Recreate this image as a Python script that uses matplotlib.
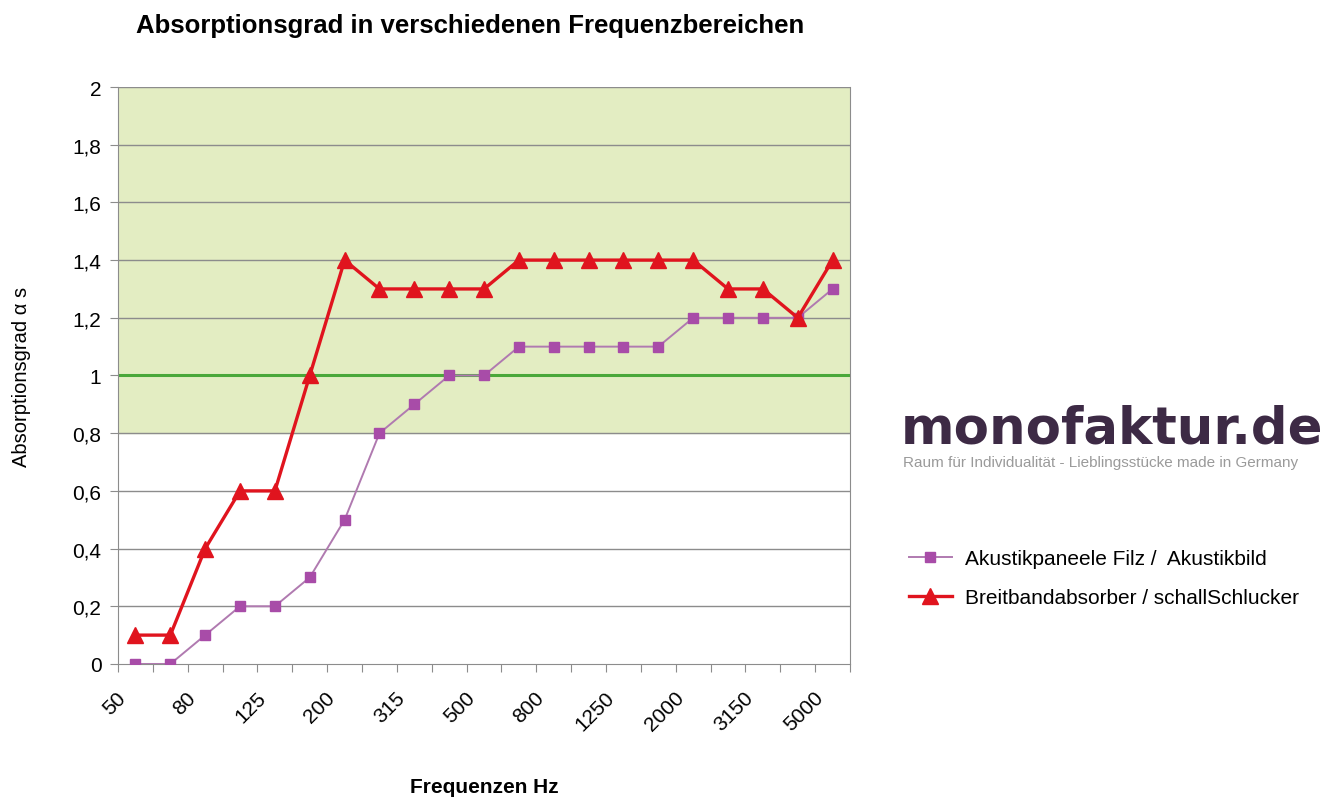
import matplotlib.pyplot as plt
from matplotlib.lines import Line2D
from matplotlib.transforms import ScaledTranslation

# frequencies (Hz), third-octave bands
freqs = ['50', '63', '80', '100', '125', '160', '200', '250', '315', '400', '500',
         '630', '800', '1000', '1250', '1600', '2000', '2500', '3150', '4000', '5000']
filz = [0, 0, 0.1, 0.2, 0.2, 0.3, 0.5, 0.8, 0.9, 1.0, 1.0,
        1.1, 1.1, 1.1, 1.1, 1.1, 1.2, 1.2, 1.2, 1.2, 1.3]
breitband = [0.1, 0.1, 0.4, 0.6, 0.6, 1.0, 1.4, 1.3, 1.3, 1.3, 1.3,
             1.4, 1.4, 1.4, 1.4, 1.4, 1.4, 1.3, 1.3, 1.2, 1.4]
yticks = [0, 0.2, 0.4, 0.6, 0.8, 1, 1.2, 1.4, 1.6, 1.8, 2]
ylabels = ['0', '0,2', '0,4', '0,6', '0,8', '1', '1,2', '1,4', '1,6', '1,8', '2']

plt.rcParams['font.family'] = ['Liberation Sans', 'DejaVu Sans']

fig = plt.figure(figsize=(13.28, 8.03), dpi=100)
ax = fig.add_axes([0.0889, 0.1719, 0.5512, 0.7185])

n = len(freqs)
x = list(range(n))
ax.set_xlim(-0.5, n - 0.5)
ax.set_ylim(0, 2)

# green zone above 0.8
ax.axhspan(0.8, 2, color='#e3edc2', zorder=0)
for y in yticks[1:]:
    ax.axhline(y, color='#8c8c8c', lw=1.0, zorder=1)
ax.axhline(1, color='#4aa83a', lw=2.2, zorder=2)

ax.plot(x, filz, color='#b07ab0', lw=1.4, marker='s', ms=6.5,
        markerfacecolor='#a84ca8', markeredgecolor='#a84ca8', zorder=3)
ax.plot(x, breitband, color='#e0141e', lw=2.4, marker='^', ms=12,
        markerfacecolor='#e0141e', markeredgecolor='#e0141e', zorder=4)

# ticks between categories, labels on every second category
ax.set_xticks([i - 0.5 for i in range(n + 1)])
ax.set_xticklabels([])
ax.set_xticks(x[::2], minor=True)
ax.set_xticklabels(freqs[::2], minor=True, rotation=45, ha='right',
                   rotation_mode='anchor', fontsize=15)
ax.tick_params(axis='x', which='minor', length=0, pad=12)
ax.tick_params(axis='x', which='major', length=6, color='#8c8c8c')
shift = ScaledTranslation(-0.19, -0.07, fig.dpi_scale_trans)
for lab in ax.get_xticklabels(minor=True):
    lab.set_transform(lab.get_transform() + shift)
ax.set_yticks(yticks)
ax.set_yticklabels(ylabels, fontsize=15)
ax.tick_params(axis='y', length=6, color='#8c8c8c', pad=6)

ax.spines['top'].set_visible(False)
for s in ['left', 'bottom', 'right']:
    ax.spines[s].set_color('#8c8c8c')

ax.set_ylabel('Absorptionsgrad α s', fontsize=14.5, labelpad=30)
ax.set_xlabel('Frequenzen Hz', fontsize=15, fontweight='bold', labelpad=31)
fig.text(0.354, 0.967, 'Absorptionsgrad in verschiedenen Frequenzbereichen',
         ha='center', va='center', fontsize=18.5, fontweight='bold')

# logo
fig.text(0.6785, 0.465, 'monofaktur.de', fontsize=37, fontweight='bold',
         color='#3d2a45', family='DejaVu Sans', ha='left', va='center')
fig.text(0.680, 0.424, 'Raum für Individualität - Lieblingsstücke made in Germany',
         fontsize=11, color='#9a9a9a', ha='left', va='center')

handles = [
    Line2D([], [], color='#b07ab0', lw=1.4, marker='s', ms=6.5,
           markerfacecolor='#a84ca8', markeredgecolor='#a84ca8'),
    Line2D([], [], color='#e0141e', lw=2.4, marker='^', ms=12,
           markerfacecolor='#e0141e', markeredgecolor='#e0141e'),
]
fig.legend(handles, ['Akustikpaneele Filz /  Akustikbild',
                     'Breitbandabsorber / schallSchlucker'],
           loc='center left', bbox_to_anchor=(0.670, 0.279), frameon=False,
           fontsize=15, handlelength=2.1, handletextpad=0.6, labelspacing=0.95)

fig.savefig('out.png', dpi=100)
